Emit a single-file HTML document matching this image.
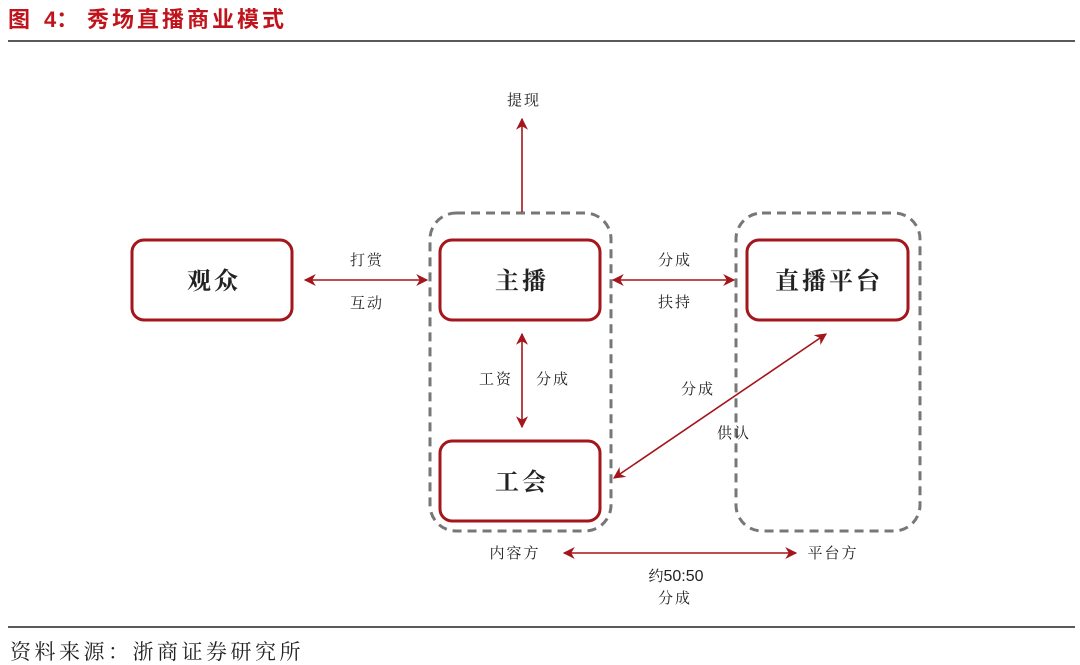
<!DOCTYPE html>
<html><head><meta charset="utf-8"><style>
html,body{margin:0;padding:0;background:#fff;width:1080px;height:665px;overflow:hidden}
svg{display:block}
text{font-family:"Liberation Serif","Noto Serif CJK SC",serif;fill:#222}
</style></head><body>
<svg width="1080" height="665" viewBox="0 0 1080 665" xmlns="http://www.w3.org/2000/svg">
<defs>
<marker id="b" viewBox="0 0 10 10" refX="9" refY="5" markerWidth="14" markerHeight="12" orient="auto-start-reverse" markerUnits="userSpaceOnUse"><path d="M0,0 L10,5 L0,10 L3,5 z" fill="#a3161b"/></marker>
</defs>
<g style="font-family:'Liberation Sans','Noto Sans CJK SC',sans-serif;fill:#c0141c" font-size="22" font-weight="bold">
<text x="8" y="27" style="font-family:'Liberation Sans','Noto Sans CJK SC',sans-serif;fill:#c0141c">图</text>
<text x="44" y="27" style="font-family:'Liberation Sans','Noto Sans CJK SC',sans-serif;fill:#c0141c">4：</text>
<text x="87" y="27" letter-spacing="3" style="font-family:'Liberation Sans','Noto Sans CJK SC',sans-serif;fill:#c0141c">秀场直播商业模式</text>
</g>
<line x1="8" y1="41" x2="1075" y2="41" stroke="#222" stroke-width="1.5"/>
<line x1="8" y1="627" x2="1075" y2="627" stroke="#222" stroke-width="1.5"/>
<text x="10" y="659" font-size="21" letter-spacing="3.5">资料来源：浙商证券研究所</text>

<rect x="430" y="213" width="181" height="318" rx="26" fill="none" stroke="#777" stroke-width="3" stroke-dasharray="9,6"/>
<rect x="736" y="213" width="184" height="318" rx="26" fill="none" stroke="#777" stroke-width="3" stroke-dasharray="9,6"/>

<g fill="#fff" stroke="#a3161b" stroke-width="3">
<rect x="132" y="240" width="160" height="80" rx="12"/>
<rect x="440" y="240" width="160" height="80" rx="12"/>
<rect x="747" y="240" width="161" height="80" rx="12"/>
<rect x="440" y="441" width="160" height="80" rx="12"/>
</g>
<g font-size="24" font-weight="bold" text-anchor="middle" letter-spacing="3">
<text x="214" y="289">观众</text>
<text x="522" y="289">主播</text>
<text x="829" y="289">直播平台</text>
<text x="522" y="490">工会</text>
</g>

<g stroke="#a3161b" stroke-width="1.6" fill="none">
<line x1="522" y1="212" x2="522" y2="119" marker-end="url(#b)"/>
<line x1="305" y1="280" x2="427" y2="280" marker-start="url(#b)" marker-end="url(#b)"/>
<line x1="613" y1="280" x2="734" y2="280" marker-start="url(#b)" marker-end="url(#b)"/>
<line x1="522" y1="334" x2="522" y2="427" marker-start="url(#b)" marker-end="url(#b)"/>
<line x1="614" y1="478" x2="826" y2="334" marker-start="url(#b)" marker-end="url(#b)"/>
<line x1="564" y1="553" x2="796" y2="553" marker-start="url(#b)" marker-end="url(#b)"/>
</g>

<g font-size="15" text-anchor="middle" letter-spacing="2">
<text x="524" y="105">提现</text>
<text x="367" y="265">打赏</text>
<text x="367" y="308">互动</text>
<text x="675" y="265">分成</text>
<text x="675" y="307">扶持</text>
<text x="496" y="384">工资</text>
<text x="553" y="384">分成</text>
<text x="698" y="394">分成</text>
<text x="734" y="438">供认</text>
<text x="515" y="558">内容方</text>
<text x="833" y="558">平台方</text>
<text x="676" y="581" letter-spacing="0"><tspan>约</tspan><tspan style="font-family:'Liberation Sans',sans-serif" font-size="16">50:50</tspan></text>
<text x="675" y="603">分成</text>
</g>
</svg>
</body></html>
